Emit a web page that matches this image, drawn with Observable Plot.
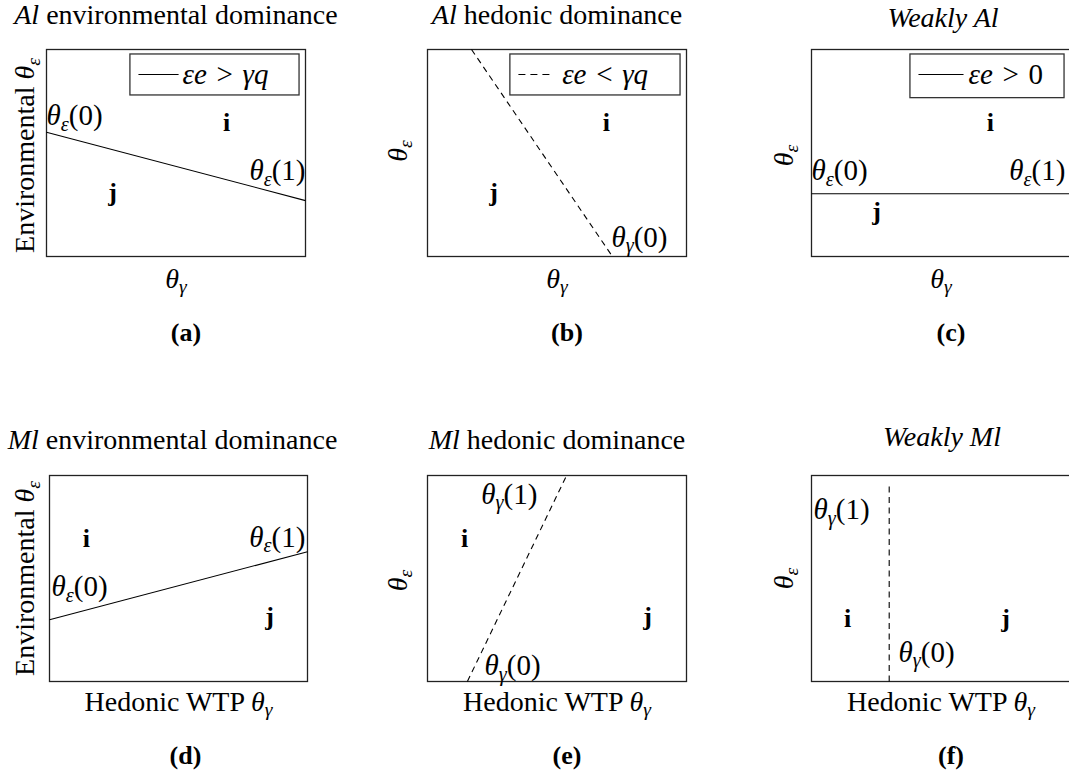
<!DOCTYPE html>
<html>
<head>
<meta charset="utf-8">
<script src="https://cdn.jsdelivr.net/npm/d3@7"></script>
<script src="https://cdn.jsdelivr.net/npm/@observablehq/plot@0.6"></script>
<style>
  html, body { margin: 0; padding: 0; background: #fff; overflow: hidden; }
  #root { position: relative; width: 1069px; height: 776px; overflow: hidden; background: #fff; }
  #root svg { position: absolute; }
</style>
</head>
<body>
<div id="root"></div>
<script>
// ---------- data (in unit coordinates of each panel) ----------
const panelIds = ["a", "b", "c", "d", "e", "f"];
const panelTitles = [
  "*Al* environmental dominance",
  "*Al* hedonic dominance",
  "*Weakly Al*",
  "*Ml* environmental dominance",
  "*Ml* hedonic dominance",
  "*Weakly Ml*"
];
const xLabels = ["*θ*_γ", "*θ*_γ", "*θ*_γ", "Hedonic WTP *θ*_γ", "Hedonic WTP *θ*_γ", "Hedonic WTP *θ*_γ"];
const yLabels = ["Environmental *θ*_ε", "*θ*_ε", "*θ*_ε", "Environmental *θ*_ε", "*θ*_ε", "*θ*_ε"];
const captions = ["(a)", "(b)", "(c)", "(d)", "(e)", "(f)"];

// boundary lines between the i and j regions
const boundaries = [
  {panel: "a", x1: 0,     y1: 0.60,  x2: 1,     y2: 0.27,  dashed: false},
  {panel: "b", x1: 0.17,  y1: 1,     x2: 0.714, y2: 0,     dashed: true},
  {panel: "c", x1: 0,     y1: 0.303, x2: 1,     y2: 0.303, dashed: false},
  {panel: "d", x1: 0,     y1: 0.30,  x2: 1,     y2: 0.63,  dashed: false},
  {panel: "e", x1: 0.154, y1: 0,     x2: 0.537, y2: 1,     dashed: true},
  {panel: "f", x1: 0.30,  y1: 0,     x2: 0.30,  y2: 0.966, dashed: true}
];

// region labels i / j
const regionLabels = [
  {panel: "a", text: "i", x: 0.695, y: 0.607}, {panel: "a", text: "j", x: 0.255, y: 0.27},
  {panel: "b", text: "i", x: 0.691, y: 0.607}, {panel: "b", text: "j", x: 0.255, y: 0.27},
  {panel: "c", text: "i", x: 0.691, y: 0.607}, {panel: "c", text: "j", x: 0.251, y: 0.174},
  {panel: "d", text: "i", x: 0.143, y: 0.652}, {panel: "d", text: "j", x: 0.853, y: 0.272},
  {panel: "e", text: "i", x: 0.143, y: 0.652}, {panel: "e", text: "j", x: 0.850, y: 0.272},
  {panel: "f", text: "i", x: 0.139, y: 0.265}, {panel: "f", text: "j", x: 0.749, y: 0.265}
];

// threshold labels θ(0), θ(1)
const thresholdLabels = [
  {panel: "a", text: "*θ*_ε(0)", x: 0,     y: 0.635, anchor: "start"},
  {panel: "a", text: "*θ*_ε(1)", x: 1,     y: 0.37,  anchor: "end"},
  {panel: "b", text: "*θ*_γ(0)", x: 0.71,  y: 0.048, anchor: "start"},
  {panel: "c", text: "*θ*_ε(0)", x: 0,     y: 0.37,  anchor: "start"},
  {panel: "c", text: "*θ*_ε(1)", x: 0.98,  y: 0.37,  anchor: "end"},
  {panel: "d", text: "*θ*_ε(0)", x: 0.008, y: 0.415, anchor: "start"},
  {panel: "d", text: "*θ*_ε(1)", x: 0.992, y: 0.655, anchor: "end"},
  {panel: "e", text: "*θ*_γ(1)", x: 0.208, y: 0.864, anchor: "start"},
  {panel: "e", text: "*θ*_γ(0)", x: 0.22,  y: 0.03,  anchor: "start"},
  {panel: "f", text: "*θ*_γ(1)", x: 0.008, y: 0.79,  anchor: "start"},
  {panel: "f", text: "*θ*_γ(0)", x: 0.336, y: 0.097, anchor: "start"}
];

// legend boxes (in panel unit coordinates)
const legends = [
  {panel: "a", text: "*εe*\u2004>\u2004*γq*", dashed: false, bx1: 0.324, bx2: 0.977, by1: 0.778, by2: 0.976, sx1: 0.355, sx2: 0.51,  sy: 0.879, tx: 0.525, ty: 0.834},
  {panel: "b", text: "*εe*\u2004<\u2004*γq*", dashed: true,  bx1: 0.32,  bx2: 0.977, by1: 0.778, by2: 0.976, sx1: 0.351, sx2: 0.486, sy: 0.879, tx: 0.52,  ty: 0.834},
  {panel: "c", text: "*εe*\u2004>\u20040",    dashed: false, bx1: 0.382, bx2: 0.977, by1: 0.765, by2: 0.976, sx1: 0.413, sx2: 0.587, sy: 0.879, tx: 0.606, ty: 0.834}
];

// ---------- layout ----------
const layout = {
  a: {left: 0,   top: 0,   width: 360, height: 360, mL: 46, mR: 55, mT: 49, mB: 104, titleDy: -26, titleDx: 0,  xDy: 31, capDy: 84, capDx: 10, yDx: -12.5, yDy: 2.5},
  b: {left: 360, top: 0,   width: 360, height: 360, mL: 67, mR: 34, mT: 49, mB: 104, titleDy: -26, titleDx: 0,  xDy: 31, capDy: 84, capDx: 10, yDx: -21,   yDy: -2},
  c: {left: 720, top: 0,   width: 350, height: 360, mL: 91, mR: 0,  mT: 49, mB: 104, titleDy: -23, titleDx: 2,  xDy: 31, capDy: 84, capDx: 10, yDx: -19,   yDy: 2.5},
  d: {left: 0,   top: 420, width: 360, height: 356, mL: 49, mR: 53, mT: 55, mB: 95,  titleDy: -27, titleDx: -6, xDy: 29, capDy: 82, capDx: 7,  yDx: -15.5, yDy: 0},
  e: {left: 360, top: 420, width: 360, height: 356, mL: 67, mR: 34, mT: 55, mB: 95,  titleDy: -27, titleDx: 0,  xDy: 29, capDy: 82, capDx: 10, yDx: -21,   yDy: 2},
  f: {left: 720, top: 420, width: 350, height: 356, mL: 91, mR: 0,  mT: 55, mB: 95,  titleDy: -30, titleDx: 1,  xDy: 29, capDy: 82, capDx: 10, yDx: -19,   yDy: 0}
};

const FONT = "'Liberation Serif', 'Times New Roman', serif";
const FS_TITLE = 28, FS_MATH = 29, FS_AXIS = 28, FS_REGION = 26, FS_CAP = 26, FS_LEG = 29;
const DASH_LINE = "6,4.5";
const DASH_LEG = "7,5";

// ---------- light "typesetting": *italic* and _x subscripts ----------
function typeset(svg) {
  const ns = "http://www.w3.org/2000/svg";
  svg.querySelectorAll("text").forEach(t => {
    const s = t.textContent;
    if (!/[*_]/.test(s)) return;
    const fs = parseFloat(getComputedStyle(t).fontSize) || 28;
    while (t.firstChild) t.removeChild(t.firstChild);
    let italic = false, buf = "", shifted = false;
    const flush = () => {
      if (!buf) return;
      const sp = document.createElementNS(ns, "tspan");
      if (italic) sp.setAttribute("font-style", "italic");
      if (shifted) { sp.setAttribute("dy", (-0.2 * fs).toFixed(2)); shifted = false; }
      sp.textContent = buf;
      t.appendChild(sp);
      buf = "";
    };
    for (let i = 0; i < s.length; i++) {
      const c = s[i];
      if (c === "*") { flush(); italic = !italic; continue; }
      if (c === "_") {
        flush();
        const sp = document.createElementNS(ns, "tspan");
        sp.setAttribute("font-style", "italic");
        sp.setAttribute("font-size", (0.7 * fs).toFixed(2));
        sp.setAttribute("dy", (0.2 * fs).toFixed(2));
        sp.textContent = s[i + 1];
        t.appendChild(sp);
        shifted = true;
        i++;
        continue;
      }
      buf += c;
    }
    flush();
  });
}

// ---------- draw ----------
const root = document.getElementById("root");

panelIds.forEach((id, k) => {
  const L = layout[id];
  const bnd = boundaries.filter(d => d.panel === id);
  const reg = regionLabels.filter(d => d.panel === id);
  const thr = thresholdLabels.filter(d => d.panel === id);
  const leg = legends.filter(d => d.panel === id);

  const marks = [
    Plot.frame({stroke: "#222", strokeWidth: 1.3}),
    Plot.link(bnd.filter(d => !d.dashed), {x1: "x1", y1: "y1", x2: "x2", y2: "y2", stroke: "#000", strokeWidth: 1.1}),
    Plot.link(bnd.filter(d => d.dashed), {x1: "x1", y1: "y1", x2: "x2", y2: "y2", stroke: "#000", strokeWidth: 1.1, strokeDasharray: DASH_LINE}),
    Plot.rect(leg, {x1: "bx1", x2: "bx2", y1: "by1", y2: "by2", fill: "#fff", stroke: "#333", strokeWidth: 1.3}),
    Plot.link(leg.filter(d => !d.dashed), {x1: "sx1", x2: "sx2", y1: "sy", y2: "sy", stroke: "#000", strokeWidth: 1.1}),
    Plot.link(leg.filter(d => d.dashed), {x1: "sx1", x2: "sx2", y1: "sy", y2: "sy", stroke: "#000", strokeWidth: 1.1, strokeDasharray: DASH_LEG}),
    Plot.text(leg, {x: "tx", y: "ty", text: "text", textAnchor: "start", lineAnchor: "bottom", fontSize: FS_LEG, fill: "#000"}),
    Plot.text(reg, {x: "x", y: "y", text: "text", lineAnchor: "bottom", fontSize: FS_REGION, fontWeight: "bold", fill: "#000"}),
    Plot.text(thr.filter(d => d.anchor === "start"), {x: "x", y: "y", text: "text", textAnchor: "start", lineAnchor: "bottom", fontSize: FS_MATH, fill: "#000"}),
    Plot.text(thr.filter(d => d.anchor === "end"), {x: "x", y: "y", text: "text", textAnchor: "end", lineAnchor: "bottom", fontSize: FS_MATH, fill: "#000"}),
    Plot.text([panelTitles[k]], {text: d => d, frameAnchor: "top", lineAnchor: "bottom", dy: L.titleDy, dx: L.titleDx, fontSize: FS_TITLE, fill: "#000"}),
    Plot.text([xLabels[k]], {text: d => d, frameAnchor: "bottom", lineAnchor: "bottom", dy: L.xDy, fontSize: FS_AXIS, fill: "#000"}),
    Plot.text([captions[k]], {text: d => d, frameAnchor: "bottom", lineAnchor: "bottom", dy: L.capDy, dx: L.capDx, fontSize: FS_CAP, fontWeight: "bold", fill: "#000"}),
    Plot.text([yLabels[k]], {text: d => d, frameAnchor: "left", rotate: -90, lineAnchor: "bottom", textAnchor: "middle", dx: L.yDx, dy: L.yDy, fontSize: FS_AXIS, fill: "#000"})
  ];

  const svg = Plot.plot({
    width: L.width,
    height: L.height,
    marginLeft: L.mL,
    marginRight: L.mR,
    marginTop: L.mT,
    marginBottom: L.mB,
    x: {domain: [0, 1], axis: null},
    y: {domain: [0, 1], axis: null},
    style: {fontFamily: FONT, background: "transparent", overflow: "visible", color: "#000"},
    marks
  });
  svg.style.left = L.left + "px";
  svg.style.top = L.top + "px";
  root.appendChild(svg);
  typeset(svg);
});
</script>
</body>
</html>
